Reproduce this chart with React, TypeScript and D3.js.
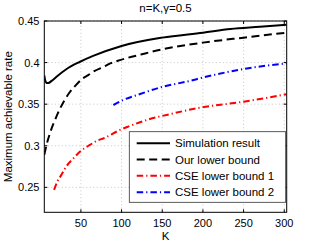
import React from "react";
import * as d3 from "d3";

const simK = [5, 6, 8, 10, 14, 20, 32, 49, 65, 100, 150, 200, 234, 270, 303];
const simV = [0.3845, 0.379, 0.3755, 0.3755, 0.378, 0.383, 0.392, 0.401, 0.408, 0.42, 0.43, 0.436, 0.4404, 0.443, 0.4455];

const lbK = [5, 8, 11, 14, 19, 24, 30, 36, 43, 51, 59, 67, 76, 86, 98, 125, 150, 200, 250, 303];
const lbV = [0.289, 0.302, 0.312, 0.321, 0.333, 0.344, 0.355, 0.364, 0.372, 0.38, 0.385, 0.39, 0.394, 0.399, 0.403, 0.41, 0.416, 0.424, 0.43, 0.436];

const cse1K = [17, 21, 26, 32, 41, 49, 61, 71, 78, 98, 108, 131, 164, 192, 250, 303];
const cse1V = [0.247, 0.257, 0.265, 0.275, 0.285, 0.293, 0.301, 0.3065, 0.309, 0.319, 0.323, 0.331, 0.339, 0.345, 0.353, 0.362];

const cse2K = [90, 102, 119, 151, 184, 200, 254, 303];
const cse2V = [0.349, 0.355, 0.361, 0.371, 0.378, 0.382, 0.393, 0.399];

const xTicks = [50, 100, 150, 200, 250, 300];
const yTicks = [0.25, 0.3, 0.35, 0.4, 0.45];

const seriesNames = ["Simulation result", "Our lower bound", "CSE lower bound 1", "CSE lower bound 2"];
const seriesColors = ["#000", "#000", "#ff0000", "#0000ff"];
const seriesDash = ["none", "8,4.5", "6.5,3,1.2,3", "6.5,3,1.2,3"];

const W = 319;
const H = 243;
const margin = { left: 44.3, right: 32.3, top: 21, bottom: 30.7 };
const font = "'Liberation Sans', Arial, Helvetica, sans-serif";

const App = () => {
  const x = d3.scaleLinear().domain([5, 303]).range([margin.left, W - margin.right]);
  const y = d3.scaleLinear().domain([0.22, 0.45]).range([H - margin.bottom, margin.top]);
  const line = d3
    .line<[number, number]>()
    .x((d) => x(d[0]))
    .y((d) => y(d[1]))
    .curve(d3.curveMonotoneX);

  const data = [
    d3.zip(simK, simV),
    d3.zip(lbK, lbV),
    d3.zip(cse1K, cse1V),
    d3.zip(cse2K, cse2V),
  ] as [number, number][][];

  const [x0, x1] = x.range();
  const [y0, y1] = y.range();

  const legX = 129.3;
  const legY = 131.7;
  const legW = 156.4;
  const legH = 70.6;
  const rowY = [143.3, 159.5, 175.8, 192.2];

  return (
    <svg width={W} height={H} style={{ position: "absolute", left: 0, top: 0, background: "#fff" }} fontFamily={font}>
      <defs>
        <clipPath id="plot">
          <rect x={x0} y={y1} width={x1 - x0} height={y0 - y1} />
        </clipPath>
      </defs>

      {/* grid */}
      {xTicks.map((t) => (
        <line key={"gx" + t} x1={x(t)} x2={x(t)} y1={y0} y2={y1} stroke="#b8b8b8" strokeWidth={0.8} strokeDasharray="1,2.5" />
      ))}
      {yTicks.map((t) => (
        <line key={"gy" + t} x1={x0} x2={x1} y1={y(t)} y2={y(t)} stroke="#b8b8b8" strokeWidth={0.8} strokeDasharray="1,2.5" />
      ))}

      {/* ticks, inward on all sides */}
      {xTicks.map((t) => (
        <g key={"tx" + t}>
          <line x1={x(t)} x2={x(t)} y1={y0} y2={y0 - 3} stroke="#000" />
          <line x1={x(t)} x2={x(t)} y1={y1} y2={y1 + 3} stroke="#000" />
          <text x={x(t)} y={226.7} fontSize={11} textAnchor="middle">
            {t}
          </text>
        </g>
      ))}
      {yTicks.map((t) => (
        <g key={"ty" + t}>
          <line x1={x0} x2={x0 + 3} y1={y(t)} y2={y(t)} stroke="#000" />
          <line x1={x1} x2={x1 - 3} y1={y(t)} y2={y(t)} stroke="#000" />
          <text x={39.5} y={y(t)} dy="0.36em" fontSize={11} textAnchor="end">
            {d3.format(".2~f")(t)}
          </text>
        </g>
      ))}

      {/* curves */}
      <g clipPath="url(#plot)">
        {data.map((d, i) => (
          <path
            key={i}
            d={line(d) || ""}
            fill="none"
            stroke={seriesColors[i]}
            strokeWidth={2}
            strokeDasharray={seriesDash[i]}
          />
        ))}
      </g>

      <rect x={x0} y={y1} width={x1 - x0} height={y0 - y1} fill="none" stroke="#000" strokeWidth={1} />

      {/* legend */}
      <rect x={legX} y={legY} width={legW} height={legH} fill="#fff" stroke="#333" strokeWidth={0.8} />
      {seriesNames.map((n, i) => (
        <g key={n}>
          <line
            x1={136.7}
            x2={170}
            y1={rowY[i]}
            y2={rowY[i]}
            stroke={seriesColors[i]}
            strokeWidth={2}
            strokeDasharray={seriesDash[i]}
          />
          <text x={175} y={rowY[i]} dy="0.36em" fontSize={11.5}>
            {n}
          </text>
        </g>
      ))}

      {/* labels */}
      <text x={(x0 + x1) / 2} y={11.5} fontSize={11.5} textAnchor="middle">
        n=K,γ=0.5
      </text>
      <text x={(x0 + x1) / 2} y={240} fontSize={11.5} textAnchor="middle">
        K
      </text>
      <text
        transform={`translate(12.3 ${(y0 + y1) / 2}) rotate(-90)`}
        fontSize={11.5}
        textAnchor="middle"
      >
        Maximum achievable rate
      </text>
    </svg>
  );
};

export default App;
